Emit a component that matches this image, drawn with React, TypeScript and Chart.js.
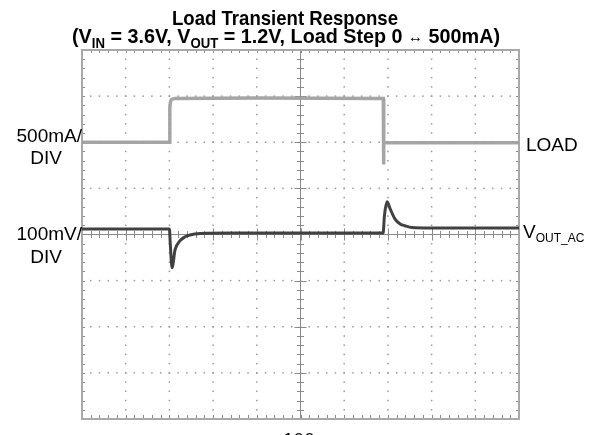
import React, { useEffect, useRef } from "react";
import { Chart, registerables } from "chart.js";

Chart.register(...registerables);

// Time axis in microseconds (100 µs / DIV), vertical axis in screen divisions (0..8)
const xTicksUs = [0, 100, 200, 300, 400, 500, 600, 700, 800, 900, 1000];
const yTicksDiv = [0, 1, 2, 3, 4, 5, 6, 7, 8];

// LOAD trace (500 mA / DIV)
const loadTimeUs = [0, 200, 201, 202.5, 205, 212, 400, 689.5, 690, 690.8, 691.6, 800, 1000];
const loadDiv = [6.0, 6.0, 6.75, 6.88, 6.93, 6.95, 6.96, 6.95, 5.52, 5.98, 5.99, 5.99, 5.99];

// VOUT_AC trace (100 mV / DIV)
const voutTimeUs = [0, 100, 200, 202, 206, 213, 224, 236, 247, 270, 340, 500, 689, 692, 698, 705, 716, 728, 739, 755, 796, 900, 1000];
const voutDiv = [4.12, 4.12, 4.12, 3.8, 3.28, 3.67, 3.86, 3.95, 3.99, 4.02, 4.03, 4.03, 4.03, 4.4, 4.71, 4.56, 4.34, 4.23, 4.19, 4.15, 4.14, 4.14, 4.14];

const titleLine1 = "Load Transient Response";
const leftLabels = ["500mA/", "DIV", "100mV/", "DIV"];
const rightLoadLabel = "LOAD";
const bottomLabel = "100μs";

const FONT = "'Liberation Sans', Arial, sans-serif";

type Run = { t: string; f: string; dy?: number };

function drawRuns(
  ctx: CanvasRenderingContext2D,
  runs: Run[],
  x: number,
  y: number,
  align: "center" | "left",
  targetWidth?: number
) {
  let total = 0;
  for (const r of runs) {
    ctx.font = r.f;
    total += ctx.measureText(r.t).width;
  }
  const sx = targetWidth ? targetWidth / total : 1;
  const w = total * sx;
  const startX = align === "center" ? x - w / 2 : x;
  ctx.save();
  ctx.translate(startX, y);
  ctx.scale(sx, 1);
  ctx.textAlign = "left";
  ctx.textBaseline = "alphabetic";
  let cx = 0;
  for (const r of runs) {
    ctx.font = r.f;
    ctx.fillText(r.t, cx, r.dy || 0);
    cx += ctx.measureText(r.t).width;
  }
  ctx.restore();
}

const gridPlugin = {
  id: "scopeGrid",
  beforeDatasetsDraw(chart: any) {
    const ctx: CanvasRenderingContext2D = chart.ctx;
    const xs = chart.scales.x;
    const ys = chart.scales.y;
    const left = xs.getPixelForValue(0);
    const right = xs.getPixelForValue(1000);
    const top = ys.getPixelForValue(8);
    const bottom = ys.getPixelForValue(0);
    const cx = xs.getPixelForValue(500);
    const cy = ys.getPixelForValue(4);
    ctx.save();
    // dotted grid
    ctx.fillStyle = "#9a9a9a";
    for (const t of xTicksUs) {
      if (t === 0 || t === 500 || t === 1000) continue;
      const px = xs.getPixelForValue(t);
      for (let v = 0; v <= 8.0001; v += 0.2) {
        const py = ys.getPixelForValue(v);
        ctx.fillRect(px - 0.75, py - 0.75, 1.5, 1.5);
      }
    }
    for (const d of yTicksDiv) {
      if (d === 0 || d === 4 || d === 8) continue;
      const py = ys.getPixelForValue(d);
      for (let u = 0; u <= 1000.001; u += 20) {
        const px = xs.getPixelForValue(u);
        ctx.fillRect(px - 0.75, py - 0.75, 1.5, 1.5);
      }
    }
    // center cross
    ctx.strokeStyle = "#8a8a8a";
    ctx.lineWidth = 1;
    ctx.beginPath();
    ctx.moveTo(cx, top);
    ctx.lineTo(cx, bottom);
    ctx.moveTo(left, cy);
    ctx.lineTo(right, cy);
    for (let v = 0; v <= 8.0001; v += 0.2) {
      const py = Math.round(ys.getPixelForValue(v)) + 0.5;
      const len = Math.abs(v - Math.round(v)) < 0.01 ? 6 : 3.5;
      ctx.moveTo(cx - len, py);
      ctx.lineTo(cx + len, py);
      ctx.moveTo(left, py);
      ctx.lineTo(left + 3, py);
      ctx.moveTo(right, py);
      ctx.lineTo(right - 3, py);
    }
    for (let u = 0; u <= 1000.001; u += 20) {
      const px = Math.round(xs.getPixelForValue(u)) + 0.5;
      const len = Math.abs(u / 100 - Math.round(u / 100)) < 0.01 ? 6 : 3.5;
      ctx.moveTo(px, cy - len);
      ctx.lineTo(px, cy + len);
      ctx.moveTo(px, bottom);
      ctx.lineTo(px, bottom - 4);
      ctx.moveTo(px, top);
      ctx.lineTo(px, top + 3);
    }
    ctx.stroke();
    // border
    ctx.strokeStyle = "#a8a8a8";
    ctx.lineWidth = 2;
    ctx.strokeRect(left, top, right - left, bottom - top);
    ctx.restore();
  },
};

const textPlugin = {
  id: "scopeText",
  afterDraw(chart: any) {
    const ctx: CanvasRenderingContext2D = chart.ctx;
    ctx.save();
    ctx.fillStyle = "#000";
    const bold = `bold 21px ${FONT}`;
    const boldSub = `bold 14px ${FONT}`;
    drawRuns(ctx, [{ t: titleLine1, f: bold }], 285, 25, "center", 226);
    drawRuns(
      ctx,
      [
        { t: "(V", f: bold },
        { t: "IN", f: boldSub, dy: 5 },
        { t: " = 3.6V, V", f: bold },
        { t: "OUT", f: boldSub, dy: 5 },
        { t: " = 1.2V, Load Step 0 ", f: bold },
        { t: "↔", f: `16px ${FONT}`, dy: -1 },
        { t: " 500mA)", f: bold },
      ],
      72,
      43,
      "left",
      428
    );
    const reg = `19px ${FONT}`;
    ctx.font = reg;
    ctx.textAlign = "right";
    ctx.fillText(leftLabels[0], 82, 142);
    ctx.textAlign = "center";
    ctx.fillText(leftLabels[1], 46, 164);
    ctx.textAlign = "right";
    ctx.fillText(leftLabels[2], 82, 240);
    ctx.textAlign = "center";
    ctx.fillText(leftLabels[3], 46, 263);
    ctx.textAlign = "left";
    ctx.fillText(rightLoadLabel, 526, 151);
    drawRuns(
      ctx,
      [
        { t: "V", f: reg },
        { t: "OUT_AC", f: `12px ${FONT}`, dy: 4 },
      ],
      523,
      238,
      "left"
    );
    ctx.font = reg;
    ctx.textAlign = "left";
    ctx.fillText(bottomLabel, 283, 446);
    ctx.restore();
  },
};

export default function App() {
  const ref = useRef<HTMLCanvasElement | null>(null);
  useEffect(() => {
    document.body.style.margin = "0";
    const canvas = ref.current;
    if (!canvas) return;
    const chart = new Chart(canvas, {
      type: "line",
      data: {
        datasets: [
          {
            label: "LOAD",
            data: loadTimeUs.map((t, i) => ({ x: t, y: loadDiv[i] })),
            borderColor: "rgba(160,160,160,0.95)",
            borderWidth: 3.5,
            pointRadius: 0,
            tension: 0,
          },
          {
            label: "VOUT_AC",
            data: voutTimeUs.map((t, i) => ({ x: t, y: voutDiv[i] })),
            borderColor: "rgba(55,55,55,0.95)",
            borderWidth: 3,
            pointRadius: 0,
            cubicInterpolationMode: "monotone",
          },
        ],
      },
      options: {
        responsive: false,
        animation: false,
        events: [],
        layout: { padding: { left: 82, right: 82, top: 50, bottom: 16 } },
        plugins: {
          legend: { display: false },
          tooltip: { enabled: false },
          title: { display: false },
        },
        scales: {
          x: { type: "linear", min: 0, max: 1000, display: false },
          y: { type: "linear", min: 0, max: 8, display: false },
        },
      },
      plugins: [gridPlugin, textPlugin],
    });
    return () => chart.destroy();
  }, []);
  return (
    <div style={{ position: "absolute", left: 0, top: 0, width: 601, height: 435, background: "#fff" }}>
      <canvas ref={ref} width={601} height={435} style={{ display: "block" }} />
    </div>
  );
}
